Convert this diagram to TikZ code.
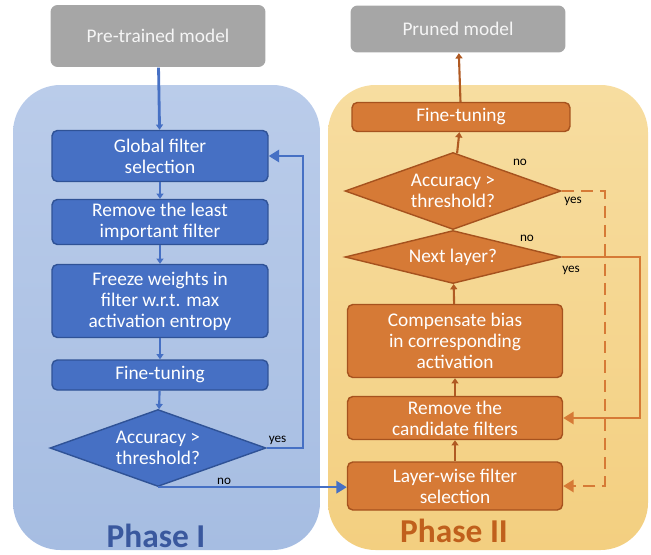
\documentclass[tikz,border=0pt]{standalone}
\usepackage{fontspec}
\setmainfont{Carlito}
\usetikzlibrary{shapes,arrows}
\usetikzlibrary{arrows.meta}
\definecolor{bluebgtop}{RGB}{186,204,234}
\definecolor{bluebgbot}{RGB}{166,189,226}
\definecolor{bluebox}{RGB}{70,112,196}
\definecolor{blueedge}{RGB}{47,82,150}
\definecolor{bluetext}{RGB}{58,88,158}
\definecolor{orangebgtop}{RGB}{247,221,160}
\definecolor{orangebgbot}{RGB}{243,207,128}
\definecolor{orangebox}{RGB}{214,122,54}
\definecolor{orangeedge}{RGB}{166,82,30}
\definecolor{orangetext}{RGB}{192,96,28}
\definecolor{grayblock}{RGB}{166,166,166}
\tikzset{
	block/.style    = {draw, thick, rectangle, rounded corners=3pt, text=white,
		align=center, inner sep=0pt, font=\fontsize{11}{12}\selectfont},
	bblock/.style   = {block, fill=bluebox, draw=blueedge, minimum width=4.32cm},
	oblock/.style   = {block, fill=orangebox, draw=orangeedge, minimum width=4.3cm},
	model/.style    = {rectangle, rounded corners=4pt, fill=grayblock, text=white!92!gray,
		minimum width=4.3cm, font=\fontsize{11}{12}\selectfont},
	decide/.style   = {draw, thick, diamond, aspect=2.8, inner sep=0pt, text=white,
		align=center, font=\fontsize{11}{12}\selectfont,
		minimum width=4.32cm, minimum height=1.54cm},
	phase/.style    = {font=\fontsize{19}{22}\selectfont\bfseries},
	answer/.style   = {font=\fontsize{7.5}{9}\selectfont, text=black, inner sep=1pt},
}

\begin{document}
\begin{tikzpicture}[ x=0.02cm, y=-0.02cm,          %<--one unit is one pixel of the layout
					thick,
					>={Triangle[length=6pt,width=7pt]} ]   %<--sets the arrowtype

	\useasboundingbox (0,0) rectangle (651,554);

	%Drawing the two phase panels:
	\shade[top color=bluebgtop, bottom color=bluebgbot, rounded corners=0.95cm] (13,85) rectangle (320,550);
	\shade[top color=orangebgtop, bottom color=orangebgbot, rounded corners=0.95cm] (328,85) rectangle (648,550);

	\draw%-----------------------------------------------------------------------------------------
	%Drawing the models:
	node(pretrained) at (158,36) [model, minimum height=1.24cm] {Pre-trained model}
	node(pruned) at (458,29) [model, minimum height=0.94cm] {Pruned model}
	%Drawing the Phase I blocks:
	node(globsel) at (160,156) [bblock, minimum height=1.02cm] {Global filter\\selection}
	node(remleast) at (160,222) [bblock, minimum height=0.9cm] {Remove the least\\important filter}
	node(freeze) at (160,301) [bblock, minimum height=1.46cm] {Freeze weights in\\filter w.r.t. max\\activation entropy}
	node(tuneA) at (160,375) [bblock, minimum height=0.6cm] {Fine-tuning}
	node(accA) at (158,448) [decide, fill=bluebox, draw=blueedge] {Accuracy >\\threshold?}
	%Drawing the Phase II blocks:
	node(layersel) at (455,486) [oblock, minimum height=0.96cm] {Layer-wise filter\\selection}
	node(remcand) at (455,418) [oblock, minimum height=0.86cm] {Remove the\\candidate filters}
	node(compbias) at (455,341) [oblock, minimum height=1.46cm] {Compensate bias\\in corresponding\\activation}
	node(nextlayer) at (453,257) [decide, fill=orangebox, draw=orangeedge, minimum height=1.06cm, aspect=4] {Next layer?}
	node(accB) at (453,191) [decide, fill=orangebox, draw=orangeedge] {Accuracy >\\threshold?}
	node(tuneB) at (461,117) [oblock, minimum width=4.36cm, minimum height=0.58cm] {Fine-tuning}
	%Drawing the loop corners:
	node[shape=coordinate][](loopA) at (303,448){}
	node[shape=coordinate][](loopB) at (640,257){}
	node[shape=coordinate][](loopC) at (605,191){}
	;%---------------------------------------------------------------------------------------------

	%Phase labels
	\node(phaseA) at (156,536) [phase, text=bluetext] {Phase I};
	\node(phaseB) at (454,531) [phase, text=orangetext] {Phase II};

	%Joining the Phase I blocks
	\draw[bluebox, line width=1.6pt, -{Triangle[length=3pt,width=4pt]}] (pretrained) -- (globsel);
	\draw[bluebox, line width=1.2pt, -{Triangle[length=3pt,width=4pt]}] (globsel) -- (remleast);
	\draw[bluebox, line width=1.2pt, -{Triangle[length=3pt,width=4pt]}] (remleast) -- (freeze);
	\draw[bluebox, line width=1.2pt, -{Triangle[length=3pt,width=4pt]}] (freeze) -- (tuneA);
	\draw[bluebox, line width=1.2pt, -{Triangle[length=3pt,width=4pt]}] (tuneA) -- (accA);
	\draw[bluebox, line width=1.4pt, ->] (accA.east) -- node[answer, above, pos=0.3] {yes} (loopA) |- (globsel.east);
	\draw[bluebox, line width=1.4pt, ->] (accA.south) -- node[answer, above, pos=0.35] {no} (accA.south -| layersel.west);

	%Joining the Phase II blocks
	\draw[orangeedge!80!orangebox, line width=1.2pt, -{Triangle[length=3pt,width=4pt]}] (layersel) -- (remcand);
	\draw[orangeedge!80!orangebox, line width=1.2pt, -{Triangle[length=3pt,width=4pt]}] (remcand) -- (compbias);
	\draw[orangeedge!80!orangebox, line width=1.2pt, -{Triangle[length=3pt,width=4pt]}] (compbias) -- (nextlayer);
	\draw[orangeedge!80!orangebox, line width=1.2pt, -{Triangle[length=3pt,width=4pt]}] (accB) -- (tuneB);
	\draw[orangeedge!80!orangebox, line width=1.2pt, -{Triangle[length=3pt,width=4pt]}] (tuneB) -- (pruned);
	\draw[orangebox, line width=1.4pt, ->] (nextlayer.east) -- (loopB) |- (remcand.east);
	\draw[orangebox, line width=1.4pt, dash pattern=on 7pt off 4pt, ->] (accB.east) -- (loopC) |- (layersel.east);

	%Yes/no marks
	\node[answer] at (520,162) {no};
	\node[answer] at (573,201) {yes};
	\node[answer] at (527,238) {no};
	\node[answer] at (571,270) {yes};

\end{tikzpicture}
\end{document}
